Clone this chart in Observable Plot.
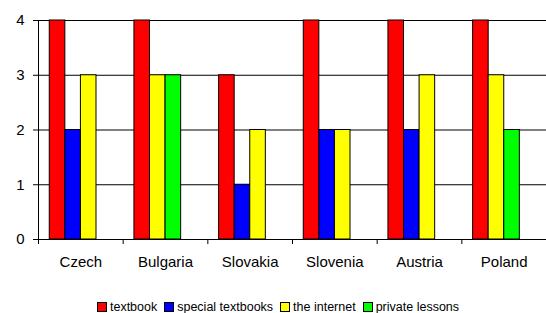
<!DOCTYPE html>
<html>
<head>
<meta charset="utf-8">
<script src="https://cdn.jsdelivr.net/npm/d3@7"></script>
<script src="https://cdn.jsdelivr.net/npm/@observablehq/plot@0.6"></script>
<style>
  body { margin: 0; background: #fff; font-family: "Liberation Sans", Arial, sans-serif; }
  #legend { display: flex; justify-content: center; align-items: center; gap: 7px; font-size: 12.5px; margin-top: 30px; margin-left: 10px; }
  #legend .item { display: flex; align-items: center; gap: 3px; }
  #legend .sw { width: 8px; height: 8px; border: 1px solid #000; }
</style>
</head>
<body>
<div id="chart"></div>
<div id="legend"></div>
<script>
const countries = ["Czech", "Bulgaria", "Slovakia", "Slovenia", "Austria", "Poland"];
const seriesNames = ["textbook", "special textbooks", "the internet", "private lessons"];
const textbook = [4, 4, 3, 4, 4, 4];
const specialTextbooks = [2, 0, 1, 2, 2, 0];
const theInternet = [3, 3, 2, 2, 3, 3];
const privateLessons = [0, 3, 0, 0, 0, 2];
const colors = ["#ff0000", "#0000ff", "#ffff00", "#00ff00"];
const yTicks = [0, 1, 2, 3, 4];

const values = [textbook, specialTextbooks, theInternet, privateLessons];
const OFF = 0.133, W = 0.184;
const rows = [];
countries.forEach((c, i) => {
  let slot = 0;
  seriesNames.forEach((s, k) => {
    const v = values[k][i];
    if (v > 0) { rows.push({country: c, i, series: s, value: v, slot}); slot++; }
  });
});

const chart = Plot.plot({
  width: 546,
  height: 270,
  marginLeft: 38,
  marginRight: 0,
  marginTop: 20,
  marginBottom: 31,
  style: {fontFamily: '"Liberation Sans", Arial, sans-serif', fontSize: "15px", color: "#000", background: "#fff"},
  x: {domain: [0, countries.length], label: null},
  y: {domain: [0, 4], label: null},
  color: {domain: seriesNames, range: colors},
  marks: [
    Plot.gridY({ticks: yTicks.slice(1), stroke: "#000", strokeOpacity: 1}),
    Plot.rect(rows, {
      x1: d => d.i + OFF + d.slot * W,
      x2: d => d.i + OFF + (d.slot + 1) * W,
      y1: 0,
      y2: "value",
      fill: "series",
      stroke: "#000",
      strokeWidth: 1
    }),
    Plot.ruleX([0], {stroke: "#000"}),
    Plot.ruleY([0], {stroke: "#000"}),
    Plot.axisY({ticks: yTicks, tickSize: 5, tickPadding: 9, tickFormat: d => String(d), fontSize: 15, stroke: "#000"}),
    Plot.axisX({ticks: d3.range(0, countries.length), tickSize: 5, tickFormat: () => "", stroke: "#000"}),
    Plot.axisX({ticks: countries.map((c, i) => i + 0.5), tickSize: 0, tickPadding: 17, tickFormat: d => countries[Math.floor(d)], fontSize: 15})
  ]
});
document.getElementById("chart").appendChild(chart);

const legend = document.getElementById("legend");
seriesNames.forEach((s, k) => {
  const item = document.createElement("div");
  item.className = "item";
  const sw = document.createElement("div");
  sw.className = "sw";
  sw.style.background = colors[k];
  const t = document.createElement("span");
  t.textContent = s;
  item.appendChild(sw);
  item.appendChild(t);
  legend.appendChild(item);
});
</script>
</body>
</html>
